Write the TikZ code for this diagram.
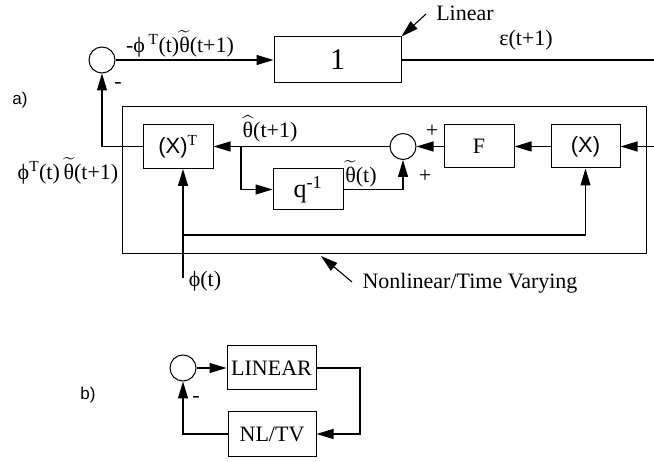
\documentclass[tikz,border=0pt]{standalone}
\usepackage{amsmath}
\usepackage{fontspec}
\setmainfont{Liberation Serif}
\newfontfamily\helv{Liberation Sans}
\usetikzlibrary{arrows.meta}
\newcommand{\tth}{\ensuremath{\widetilde{\text{θ}}}}
\newcommand{\hth}{\ensuremath{\widehat{\text{θ}}}}
\begin{document}
\begin{tikzpicture}[x=1pt,y=-1pt,
  every node/.style={font=\fontsize{22}{26}\selectfont},
  blk/.style={draw,line width=1pt,inner sep=0pt},
  sumc/.style={draw,circle,line width=1pt,minimum size=26pt,inner sep=0pt},
  wire/.style={line width=1.1pt},
  arr/.style={wire,-{Triangle[length=17pt,width=10pt]}},
  lbl/.style={inner sep=0pt}]
\useasboundingbox (0,0) rectangle (654,462);
% part a
\node[sumc] (s1) at (102,60) {};
\node[blk,minimum width=127pt,minimum height=46pt,font=\fontsize{30}{34}\selectfont] (b1) at (337.5,60) {1};
\node[blk,minimum width=524pt,minimum height=147pt] (nl) at (384,180.5) {};
\node[blk,minimum width=70pt,minimum height=44pt] (xt) at (178,146.5) {{\helv (X)}\textsuperscript{T}};
\node[sumc] (s2) at (403,146.5) {};
\node[blk,minimum width=70pt,minimum height=41pt,font=\fontsize{26}{30}\selectfont] (q) at (308,189.5) {q\textsuperscript{-1}};
\node[blk,minimum width=70pt,minimum height=43pt] (F) at (479,146.5) {F};
\node[blk,minimum width=69pt,minimum height=43pt] (xx) at (585.5,146.5) {\helv (X)};
\coordinate (eR) at (654,60);
\coordinate (eR2) at (654,146.5);
\coordinate (br) at (241,146.5);
\coordinate (phi) at (183,278);
\coordinate (jn) at (183,235);
\coordinate (linS) at (426,14);
\coordinate (nlS) at (352,282);
\coordinate (nlE) at (321,256);
\draw[arr] (s1) -- (b1);
\draw[wire] (b1.east) -- (eR);
\draw[arr] (linS) -- (b1.north east);
\draw[arr] (xt.west) -| (s1.south);
\draw[arr] (s2) -- (xt);
\draw[arr] (br) |- (q.west);
\draw[arr] (q.east) -| (s2.south);
\draw[arr] (F) -- (s2);
\draw[arr] (xx) -- (F);
\draw[arr] (eR2) -- (xx);
\draw[arr] (phi) -- (phi |- xt.south);
\draw[arr] (jn) -| (xx.south);
\draw[arr] (nlS) -- (nlE);
\node[lbl] (t1) at (180,44) {-ϕ\,\textsuperscript{T}(t)\tth(t+1)};
\node[lbl] (t2) at (526,40) {ε(t+1)};
\node[lbl] (t3) at (465,13) {Linear};
\node[lbl] (t4) at (118,86) {-};
\node[lbl,font=\helv\fontsize{17}{20}\selectfont] (ta) at (20,100) {a)};
\node[lbl] (t5) at (270,129) {\hth(t+1)};
\node[lbl] (t6) at (361,174) {\tth(t)};
\node[lbl] (t7) at (432,131) {+};
\node[lbl] (t8) at (425,176) {+};
\node[lbl] (t9) at (68,171) {ϕ\textsuperscript{T}(t)\,\tth(t+1)};
\node[lbl] (t10) at (205,281) {ϕ(t)};
\node[lbl] (t11) at (470,283) {Nonlinear/Time Varying};
% part b
\node[sumc] (c3) at (183,368) {};
\node[blk,minimum width=89pt,minimum height=44pt] (lin) at (271.5,368) {LINEAR};
\node[blk,minimum width=88pt,minimum height=45pt] (nltv) at (272,434) {NL/TV};
\coordinate (rb) at (360,368);
\node[lbl,font=\helv\fontsize{17}{20}\selectfont] (tb) at (88,395) {b)};
\node[lbl] (tm) at (196,399) {-};
\draw[arr] (c3) -- (lin);
\draw[arr] (lin.east) -- (rb) |- (nltv.east);
\draw[arr] (nltv.west) -| (c3.south);
\end{tikzpicture}
\end{document}
